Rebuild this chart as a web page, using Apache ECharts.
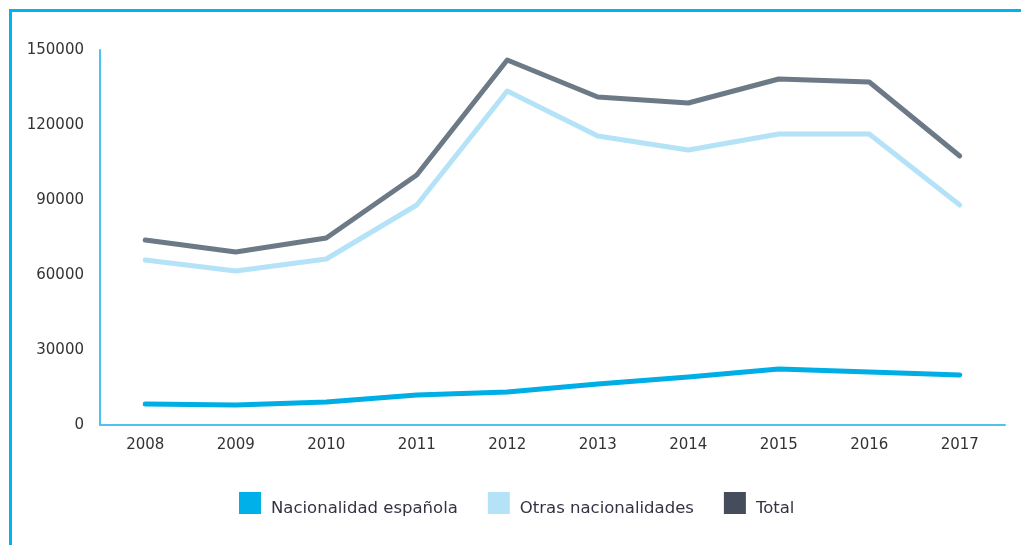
<!DOCTYPE html>
<html>
<head>
<meta charset="utf-8">
<script src="https://cdn.jsdelivr.net/npm/echarts@6/dist/echarts.min.js"></script>
<style>
html,body{margin:0;padding:0;background:#fff;}
#frame{position:absolute;left:9px;top:9px;right:0;bottom:0;border-top:3px solid #00b4ef;border-left:3px solid #00b4ef;}
#chart{position:absolute;left:0;top:0;width:1021px;height:545px;}
</style>
</head>
<body>
<div id="frame"></div>
<div id="chart"></div>
<script>
const years = ['2008','2009','2010','2011','2012','2013','2014','2015','2016','2017'];
const nacionalidadEspanola = [8400, 8000, 9200, 12000, 13200, 16400, 19200, 22400, 21200, 20000];
const otrasNacionalidades = [66000, 61600, 66400, 88000, 133600, 115600, 110000, 116400, 116400, 88000];
const total = [74000, 69200, 74800, 100000, 146000, 131200, 128800, 138400, 137200, 107600];
const yTicks = [0, 30000, 60000, 90000, 120000, 150000];

const FONT = 'DejaVu Sans';
const chart = echarts.init(document.getElementById('chart'), null, {renderer:'canvas'});
chart.setOption({
  animation:false,
  backgroundColor:'transparent',
  grid:{left:100, right:16, top:50, bottom:120, containLabel:false},
  legend:{
    top:492, left:239, padding:0,
    icon:'rect', itemWidth:22, itemHeight:22, itemGap:30,
    formatter:function(n){return '{t|' + n + '}';},
    textStyle:{fontFamily:FONT, fontSize:16.5, color:'#333344',
      rich:{t:{fontFamily:FONT, fontSize:16.5, color:'#333344', padding:[11,0,0,5]}}},
    data:[
      {name:'Nacionalidad española', itemStyle:{color:'#00b0e8'}},
      {name:'Otras nacionalidades', itemStyle:{color:'#b4e2f7'}},
      {name:'Total', itemStyle:{color:'#454c5c'}}
    ]
  },
  xAxis:{
    type:'category', data:years, boundaryGap:true,
    axisLine:{lineStyle:{color:'#4cc4f0', width:2}},
    axisTick:{show:false},
    axisLabel:{fontFamily:FONT, fontSize:15, color:'#333', margin:13}
  },
  yAxis:{
    type:'value', min:yTicks[0], max:yTicks[yTicks.length-1], interval:30000,
    axisLine:{show:true, lineStyle:{color:'#4cc4f0', width:2}},
    axisTick:{show:false},
    splitLine:{show:false},
    axisLabel:{fontFamily:FONT, fontSize:15, color:'#333', margin:16, formatter:function(v){return String(v);}}
  },
  series:[
    {name:'Nacionalidad española', type:'line', data:nacionalidadEspanola, showSymbol:false,
     itemStyle:{color:'#00aee6'}, lineStyle:{color:'#00aee6', width:5, cap:'round', join:'round'}},
    {name:'Otras nacionalidades', type:'line', data:otrasNacionalidades, showSymbol:false,
     itemStyle:{color:'#b4e2f7'}, lineStyle:{color:'#b4e2f7', width:5, cap:'round', join:'round'}},
    {name:'Total', type:'line', data:total, showSymbol:false,
     itemStyle:{color:'#454c5c'}, lineStyle:{color:'#6b7a86', width:5, cap:'round', join:'round'}}
  ]
});
</script>
</body>
</html>
